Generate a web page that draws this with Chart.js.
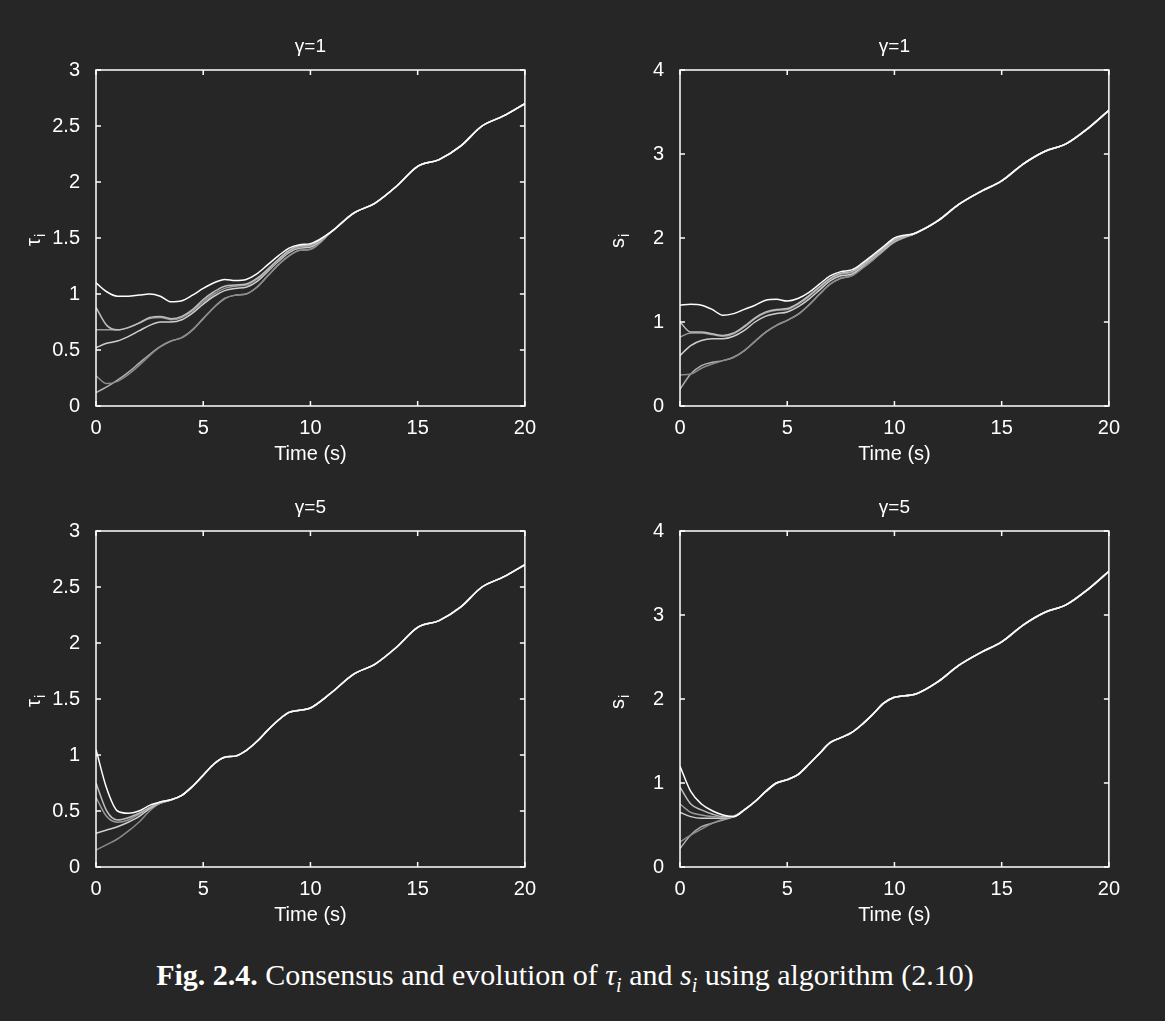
<!DOCTYPE html>
<html>
<head>
<meta charset="utf-8">
<script src="https://cdn.jsdelivr.net/npm/chart.js@4.4.1/dist/chart.umd.min.js"></script>
<style>
  body { margin: 0; background: #262626; width: 1165px; height: 1021px; overflow: hidden; position: relative; }
  .panel { position: absolute; width: 518px; height: 436px; }
  #caption { position: absolute; left: 0; width: 1130px; top: 958px; text-align: center; color: #fff;
    font-family: "Liberation Serif", "DejaVu Serif", serif; font-size: 30px; }
</style>
</head>
<body>
<div class="panel" style="left:20px;top:30px"><canvas id="c1"></canvas></div>
<div class="panel" style="left:604px;top:30px"><canvas id="c2"></canvas></div>
<div class="panel" style="left:20px;top:491px"><canvas id="c3"></canvas></div>
<div class="panel" style="left:604px;top:491px"><canvas id="c4"></canvas></div>
<div id="caption"><b>Fig. 2.4.</b> Consensus and evolution of <i>τ<sub style="font-size:20px">i</sub></i> and <i>s<sub style="font-size:20px">i</sub></i> using algorithm (2.10)</div>
<script>
// time samples: 0..10 step 0.5, then 11..20 step 1
const timeHead = [0,0.5,1,1.5,2,2.5,3,3.5,4,4.5,5,5.5,6,6.5,7,7.5,8,8.5,9,9.5,10];
const timeTail = [11,12,13,14,15,16,17,18,19,20];

// tau, gamma = 1
const tauTail = [1.56,1.72,1.81,1.96,2.14,2.2,2.32,2.5,2.59,2.7];
const tau1A = [1.1,1.02,0.98,0.98,0.99,1.0,0.98,0.93,0.94,0.99,1.05,1.1,1.13,1.12,1.13,1.18,1.26,1.34,1.41,1.44,1.45];
const tau1B = [0.88,0.72,0.68,0.7,0.74,0.79,0.8,0.78,0.8,0.86,0.95,1.02,1.07,1.08,1.09,1.14,1.22,1.31,1.39,1.43,1.44];
const tau1C = [0.68,0.68,0.68,0.7,0.74,0.78,0.79,0.77,0.79,0.85,0.93,1.0,1.05,1.07,1.08,1.13,1.21,1.3,1.38,1.42,1.43];
const tau1D = [0.52,0.56,0.58,0.62,0.67,0.72,0.75,0.75,0.77,0.83,0.91,0.98,1.03,1.05,1.06,1.11,1.2,1.29,1.37,1.41,1.42];
const tau1E = [0.27,0.2,0.22,0.28,0.36,0.45,0.53,0.58,0.61,0.68,0.78,0.88,0.96,0.99,1.0,1.06,1.16,1.26,1.34,1.39,1.4];
const tau1F = [0.12,0.17,0.23,0.3,0.38,0.46,0.53,0.58,0.61,0.68,0.78,0.88,0.96,0.99,1.0,1.06,1.16,1.26,1.34,1.39,1.4];

// s, gamma = 1
const sTail = [2.06,2.2,2.4,2.55,2.68,2.88,3.03,3.12,3.3,3.52];
const s1A = [1.2,1.21,1.2,1.15,1.08,1.1,1.15,1.2,1.26,1.27,1.25,1.28,1.35,1.45,1.55,1.6,1.62,1.7,1.8,1.9,2.0];
const s1B = [1.0,0.88,0.88,0.86,0.84,0.87,0.95,1.05,1.12,1.15,1.16,1.22,1.31,1.42,1.52,1.58,1.6,1.68,1.78,1.88,1.98];
const s1C = [0.82,0.87,0.87,0.85,0.83,0.86,0.94,1.04,1.11,1.14,1.15,1.21,1.3,1.41,1.51,1.57,1.59,1.67,1.77,1.87,1.97];
const s1D = [0.6,0.72,0.78,0.8,0.8,0.83,0.9,1.0,1.07,1.1,1.12,1.18,1.27,1.38,1.49,1.55,1.57,1.66,1.76,1.86,1.96];
const s1E = [0.37,0.38,0.45,0.5,0.54,0.58,0.66,0.77,0.88,0.96,1.02,1.09,1.2,1.33,1.45,1.52,1.55,1.64,1.74,1.85,1.95];
const s1F = [0.2,0.38,0.48,0.52,0.54,0.58,0.66,0.77,0.88,0.96,1.02,1.09,1.2,1.33,1.45,1.52,1.55,1.64,1.74,1.85,1.95];

// tau, gamma = 5: distinct start (t 0..3), then common
const tau5Common = [0.6,0.64,0.72,0.82,0.92,0.98,0.99,1.04,1.12,1.22,1.31,1.38,1.4,1.42];
const tau5A = [1.05,0.7,0.5,0.48,0.5,0.55,0.58];
const tau5B = [0.75,0.5,0.42,0.44,0.48,0.53,0.58];
const tau5C = [0.62,0.45,0.4,0.42,0.47,0.53,0.57];
const tau5D = [0.3,0.33,0.36,0.4,0.45,0.52,0.57];
const tau5E = [0.15,0.2,0.25,0.32,0.4,0.5,0.57];

// s, gamma = 5: distinct start (t 0..2.5), then common
const s5Common = [0.68,0.78,0.9,1.0,1.04,1.1,1.22,1.35,1.48,1.54,1.6,1.7,1.82,1.95,2.02];
const s5A = [1.2,0.9,0.75,0.67,0.62,0.6];
const s5B = [0.95,0.75,0.68,0.63,0.6,0.6];
const s5C = [0.75,0.65,0.62,0.6,0.59,0.6];
const s5D = [0.65,0.6,0.58,0.58,0.58,0.6];
const s5E = [0.3,0.38,0.45,0.52,0.57,0.6];
const s5F = [0.22,0.38,0.48,0.52,0.56,0.6];

const xTicks = [0,5,10,15,20];
const tauTicks = [0,0.5,1,1.5,2,2.5,3];
const sTicks = [0,1,2,3,4];
const lineColors = ['#ffffff','#bdbdbd','#9a9a9a','#cfcfcf','#8a8a8a','#b0b0b0'];

const allTime = timeHead.concat(timeTail);
function series(vals) { return vals.map((v, i) => ({ x: allTime[i], y: v })); }

// inward ticks on all four sides + box + panel title + y label
const boxPlugin = {
  id: 'box',
  afterDraw(chart, args, opts) {
    const { ctx, chartArea: a, scales } = chart;
    ctx.save();
    ctx.strokeStyle = '#fff';
    ctx.lineWidth = 1.5;
    ctx.strokeRect(a.left, a.top, a.right - a.left, a.bottom - a.top);
    ctx.beginPath();
    xTicks.forEach(t => {
      const px = scales.x.getPixelForValue(t);
      ctx.moveTo(px, a.bottom); ctx.lineTo(px, a.bottom - 5);
      ctx.moveTo(px, a.top); ctx.lineTo(px, a.top + 5);
    });
    opts.yTicks.forEach(t => {
      const py = scales.y.getPixelForValue(t);
      ctx.moveTo(a.left, py); ctx.lineTo(a.left + 5, py);
      ctx.moveTo(a.right, py); ctx.lineTo(a.right - 5, py);
    });
    ctx.stroke();
    ctx.fillStyle = '#fff';
    ctx.font = '19px "Liberation Sans", Arial';
    ctx.textAlign = 'center';
    ctx.fillText(opts.title, (a.left + a.right) / 2, a.top - 18);
    ctx.translate(a.left - 56, (a.top + a.bottom) / 2);
    ctx.rotate(-Math.PI / 2);
    ctx.font = '20px "Liberation Sans", Arial';
    ctx.textAlign = 'right';
    ctx.fillText(opts.ylab, 0, 0);
    ctx.font = '14px "Liberation Sans", Arial';
    ctx.textAlign = 'left';
    ctx.fillText('i', 1, 5);
    ctx.restore();
  }
};

function makeChart(id, lines, yMax, yTicks, title, ylab) {
  new Chart(document.getElementById(id), {
    type: 'line',
    data: {
      datasets: lines.map((vals, i) => ({
        data: series(vals),
        borderColor: lineColors[i % lineColors.length],
        borderWidth: 1.5,
        pointRadius: 0,
        cubicInterpolationMode: 'monotone',
        fill: false
      }))
    },
    options: {
      responsive: true,
      maintainAspectRatio: false,
      animation: false,
      layout: { padding: { top: 40, right: 12 } },
      plugins: { legend: { display: false }, tooltip: { enabled: false }, box: { title, ylab, yTicks } },
      scales: {
        x: {
          type: 'linear', min: 0, max: 20,
          afterBuildTicks: s => { s.ticks = xTicks.map(v => ({ value: v })); },
          afterFit: s => { s.height = 60; },
          grid: { display: false },
          border: { display: false },
          ticks: { color: '#fff', font: { size: 20, family: '"Liberation Sans", Arial' }, padding: 2, maxRotation: 0 },
          title: { display: true, text: 'Time (s)', color: '#fff', font: { size: 20, family: '"Liberation Sans", Arial' }, padding: 0 }
        },
        y: {
          min: 0, max: yMax,
          afterBuildTicks: s => { s.ticks = yTicks.map(v => ({ value: v })); },
          afterFit: s => { s.width = 76; },
          grid: { display: false },
          border: { display: false },
          ticks: { color: '#fff', font: { size: 20, family: '"Liberation Sans", Arial' }, padding: 8, callback: v => String(v) }
        }
      }
    },
    plugins: [boxPlugin]
  });
}

makeChart('c1', [tau1A, tau1B, tau1C, tau1D, tau1E, tau1F].map(h => h.concat(tauTail)), 3, tauTicks, 'γ=1', 'τ');
makeChart('c2', [s1A, s1B, s1C, s1D, s1E, s1F].map(h => h.concat(sTail)), 4, sTicks, 'γ=1', 's');
makeChart('c3', [tau5A, tau5B, tau5C, tau5D, tau5E].map(h => h.concat(tau5Common, tauTail)), 3, tauTicks, 'γ=5', 'τ');
makeChart('c4', [s5A, s5B, s5C, s5D, s5E, s5F].map(h => h.concat(s5Common, sTail)), 4, sTicks, 'γ=5', 's');
</script>
</body>
</html>
